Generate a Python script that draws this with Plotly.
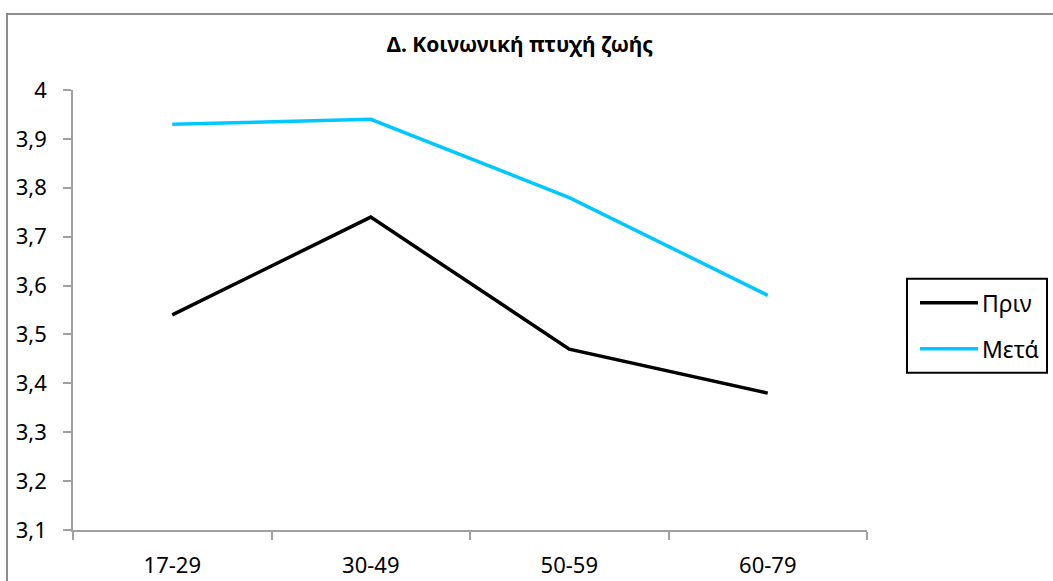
import plotly.graph_objects as go

categories = ["17-29", "30-49", "50-59", "60-79"]
before = [3.54, 3.74, 3.47, 3.38]
after = [3.93, 3.94, 3.78, 3.58]
series_names = ["Πριν", "Μετά"]
series_colors = ["#000000", "#00C8FF"]
y_ticks = [3.1, 3.2, 3.3, 3.4, 3.5, 3.6, 3.7, 3.8, 3.9, 4.0]
y_tick_text = ["3,1", "3,2", "3,3", "3,4", "3,5", "3,6", "3,7", "3,8", "3,9", "4"]

W, H = 1053, 581
L, R, T, B = 73, 186, 90, 50.5
pw = W - L - R
ph = H - T - B

def px_x(p):
    return (p - L) / pw

def px_y(p):
    return (H - B - p) / ph

FONT = "Noto Sans"

fig = go.Figure()
for name, vals, col in zip(series_names, [before, after], series_colors):
    fig.add_trace(go.Scatter(x=categories, y=vals, mode="lines", name=name,
                             line=dict(color=col, width=3.5), showlegend=False))

fig.update_layout(
    width=W, height=H,
    margin=dict(l=L, r=R, t=T, b=B, autoexpand=False),
    paper_bgcolor="white", plot_bgcolor="white",
    separators=",.",
    font=dict(family=FONT, size=22, color="#000000"),
    title=dict(text="<b>Δ. Κοινωνική πτυχή ζωής</b>", x=px_x(520), xref="paper",
               xanchor="center", y=1 - 45 / H, yanchor="middle",
               font=dict(family=FONT, size=21, color="#000000")),
    xaxis=dict(type="category", range=[-0.5, 3.5], showline=True, linecolor="#A0A0A0",
               linewidth=1.5, ticks="outside", tickson="boundaries", ticklen=8,
               tickcolor="#A0A0A0", tickwidth=1.5, showgrid=False, zeroline=False,
               ticklabelstandoff=15, automargin=False, fixedrange=True),
    yaxis=dict(range=[3.1, 4.0], tickvals=y_ticks, ticktext=y_tick_text, showline=True,
               linecolor="#A0A0A0", linewidth=1.5, ticks="outside", ticklen=8,
               tickcolor="#A0A0A0", tickwidth=1.5, showgrid=False, zeroline=False,
               ticklabelstandoff=12, automargin=False),
)

# outer chart frame
fig.add_shape(type="rect", xref="paper", yref="paper",
              x0=px_x(7), y0=px_y(H + 20), x1=px_x(W + 20), y1=px_y(14),
              line=dict(color="#8C8C8C", width=2), fillcolor="rgba(0,0,0,0)", layer="below")

# legend box (Excel style, long line samples)
fig.add_shape(type="rect", xref="paper", yref="paper",
              x0=px_x(907), y0=px_y(373), x1=px_x(1047), y1=px_y(279),
              line=dict(color="#000000", width=2), fillcolor="white", layer="above")
for i, (name, col) in enumerate(zip(series_names, series_colors)):
    yy = 303 + 46 * i
    fig.add_shape(type="line", xref="paper", yref="paper",
                  x0=px_x(920), x1=px_x(978), y0=px_y(yy), y1=px_y(yy),
                  line=dict(color=col, width=3.5), layer="above")
    fig.add_annotation(x=px_x(980), y=px_y(yy), xref="paper", yref="paper",
                       text=name, showarrow=False, xanchor="left", yanchor="middle",
                       font=dict(family=FONT, size=23, color="#000000"))

fig.write_html("out.html")
